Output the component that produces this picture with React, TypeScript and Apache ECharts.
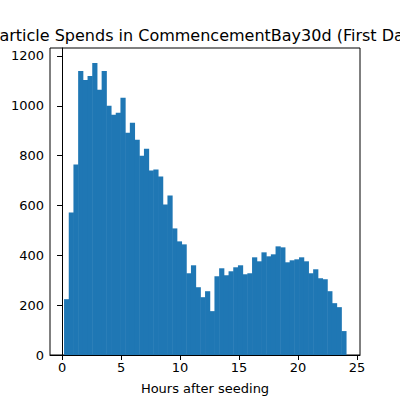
import React, { useEffect, useRef } from 'react';
import * as echarts from 'echarts';

const binStart = 0.17;
const binWidth = 0.3983;
const counts = [
    224, 572, 764, 1140, 1104, 1120, 1172, 1064, 1140, 1000, 964, 972, 1032, 892, 932,
    864, 800, 828, 740, 744, 716, 604, 640, 508, 456, 444, 328, 360, 272, 232,
    256, 176, 316, 348, 320, 336, 352, 360, 324, 328, 392, 376, 412, 396, 404,
    436, 432, 372, 380, 384, 392, 376, 328, 344, 308, 304, 256, 208, 192, 96,
];
const xTicks = [0, 5, 10, 15, 20, 25];
const yTicks = [0, 200, 400, 600, 800, 1000, 1200];
const titleText = 'Particle Spends in CommencementBay30d (First Day)';
const xName = 'Hours after seeding';

const font = 'DejaVu Sans, sans-serif';

const App: React.FC = () => {
    const chartRef = useRef<HTMLDivElement>(null);

    useEffect(() => {
        const chart = echarts.init(chartRef.current!, null, { renderer: 'svg' });
        const data = counts.map((c, i) => [binStart + i * binWidth, binStart + (i + 1) * binWidth, c]);
        chart.setOption({
            animation: false,
            textStyle: { fontFamily: font },
            grid: { left: 50, right: 40, top: 48, bottom: 44, show: true, borderColor: '#000', borderWidth: 1 },
            graphic: [
                {
                    type: 'text', x: 205, y: 27,
                    style: { text: titleText, fontSize: 16, fontFamily: font, fill: '#000', textAlign: 'center' },
                },
            ],
            xAxis: {
                type: 'value', min: -1.02, max: 25.25,
                name: xName, nameLocation: 'middle', nameGap: 27,
                nameTextStyle: { fontSize: 13, color: '#000', fontFamily: font },
                axisLine: { lineStyle: { color: '#000' } },
                axisTick: { show: true, length: 5, lineStyle: { color: '#000' }, customValues: xTicks },
                axisLabel: { fontSize: 13, color: '#000', margin: 6, customValues: xTicks, formatter: (v: number) => String(v) },
                splitLine: { show: false },
            },
            yAxis: {
                type: 'value', min: 0, max: 1232,
                axisLine: { show: true, lineStyle: { color: '#000' } },
                axisTick: { show: true, length: 5, lineStyle: { color: '#000' }, customValues: yTicks },
                axisLabel: { fontSize: 13, color: '#000', margin: 6, customValues: yTicks, formatter: (v: number) => String(v) },
                splitLine: { show: false },
            },
            series: [
                {
                    type: 'custom',
                    data,
                    encode: { x: [0, 1], y: 2 },
                    renderItem: (params: any, api: any) => {
                        const p0 = api.coord([api.value(0), api.value(2)]);
                        const p1 = api.coord([api.value(1), 0]);
                        return {
                            type: 'rect',
                            shape: { x: p0[0], y: p0[1], width: p1[0] - p0[0] + 0.5, height: p1[1] - p0[1] },
                            style: { fill: '#1f77b4' },
                        };
                    },
                },
            ],
        });
        return () => {
            chart.dispose();
        };
    }, []);

    return <div ref={chartRef} style={{ width: 400, height: 400, position: 'absolute', left: 0, top: 0 }} />;
};

export default App;
